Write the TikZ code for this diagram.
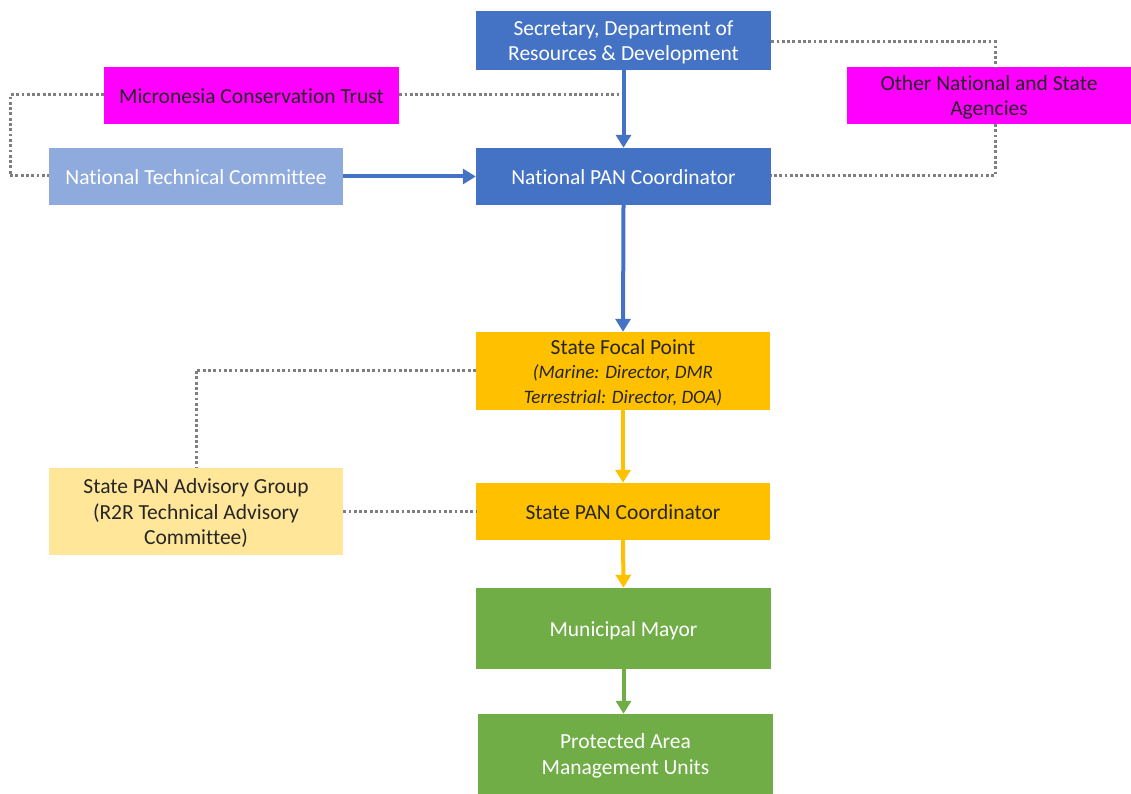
\documentclass[tikz,border=0pt]{standalone}
\usepackage{fontspec}
\setmainfont{Carlito}[Ligatures=NoCommon]
\usetikzlibrary{arrows.meta}
\definecolor{cblue}{HTML}{4472C4}
\definecolor{clblue}{HTML}{8FAADC}
\definecolor{cmag}{HTML}{FF00FF}
\definecolor{cyel}{HTML}{FFC000}
\definecolor{clyel}{HTML}{FFE699}
\definecolor{cgreen}{HTML}{70AD47}
\definecolor{cdot}{HTML}{7F7F7F}
\definecolor{ctext}{HTML}{262626}
\newcommand{\smit}{\fontsize{19}{23}\selectfont\itshape}
\newcommand{\lowtext}[1]{\raisebox{-2.5pt}[\height][\depth]{\begin{tabular}{@{}c@{}}#1\end{tabular}}}
\tikzset{
  box/.style={rectangle, inner sep=0pt, font=\fontsize{21.5}{25.5}\selectfont},
  bluebox/.style={box, fill=cblue, text=white},
  lbluebox/.style={box, fill=clblue, text=white},
  magbox/.style={box, fill=cmag, text=ctext},
  yelbox/.style={box, fill=cyel, text=ctext},
  lyelbox/.style={box, fill=clyel, text=ctext},
  greenbox/.style={box, fill=cgreen, text=white},
  flow/.style={line width=4pt, -{Triangle[width=15pt,length=13pt]}},
  dotline/.style={cdot, line width=3pt, dash pattern=on 2.8pt off 2.5pt}
}
\begin{document}
\begin{tikzpicture}[x=1pt,y=-1pt]
\useasboundingbox (0,0) rectangle (1131,794);
\node[bluebox, minimum width=295pt, minimum height=59pt] (sec) at (623.5,40.5) {\lowtext{Secretary, Department of\\Resources \& Development}};
\node[magbox, minimum width=295pt, minimum height=57pt] (mct) at (251.5,95.5) {\lowtext{Micronesia Conservation Trust}};
\node[magbox, minimum width=284pt, minimum height=57pt] (oth) at (989,95.5) {\lowtext{Other National and State\\Agencies}};
\node[lbluebox, minimum width=294pt, minimum height=57pt] (ntc) at (196,176.5) {\lowtext{National Technical Committee}};
\node[bluebox, minimum width=295pt, minimum height=57pt] (npc) at (623.5,176.5) {\lowtext{National PAN Coordinator}};
\node[yelbox, minimum width=294pt, minimum height=78pt] (sfp) at (623,371) {\lowtext{State Focal Point\\[-1pt]\smit (Marine: Director, DMR\\[-1pt]\smit Terrestrial: Director, DOA)}};
\node[lyelbox, minimum width=294pt, minimum height=87pt] (spag) at (196,511.5) {\lowtext{State PAN Advisory Group\\(R2R Technical Advisory\\Committee)}};
\node[yelbox, minimum width=294pt, minimum height=57pt] (spc) at (623,511.5) {\lowtext{State PAN Coordinator}};
\node[greenbox, minimum width=295pt, minimum height=81pt] (mm) at (623.5,628.5) {\lowtext{Municipal Mayor}};
\node[greenbox, minimum width=295pt, minimum height=80pt] (pamu) at (625.5,754) {\lowtext{Protected Area\\Management Units}};

% dotted connectors
\coordinate (mctend) at (623.5,95);
\draw[dotline] (mct.east |- mctend) -- (mctend);
\draw[dotline] (mct.west |- 0,95) -- (10,95) -- (10,176) -- (ntc.west |- 0,176);
\draw[dotline] (sec.east |- 0,41.5) -- (995,41.5) -- (995,67);
\draw[dotline] (995,124) -- (995,176) -- (npc.east |- 0,176);
\draw[dotline] (sfp.west |- 0,370) -- (196,370) -- (spag.north);
\draw[dotline] (spag.east) -- (spc.west);

% flow arrows
\draw[flow, cblue] (sec.south) -- (npc.north);
\draw[flow, cblue] (ntc.east) -- (npc.west);
\draw[flow, cblue] (npc.south) -- (sfp.north);
\draw[flow, cyel] (sfp.south) -- (spc.north);
\draw[flow, cyel] (spc.south) -- (mm.north);
\draw[flow, cgreen] (mm.south) -- (mm.south |- pamu.north);
\end{tikzpicture}
\end{document}
